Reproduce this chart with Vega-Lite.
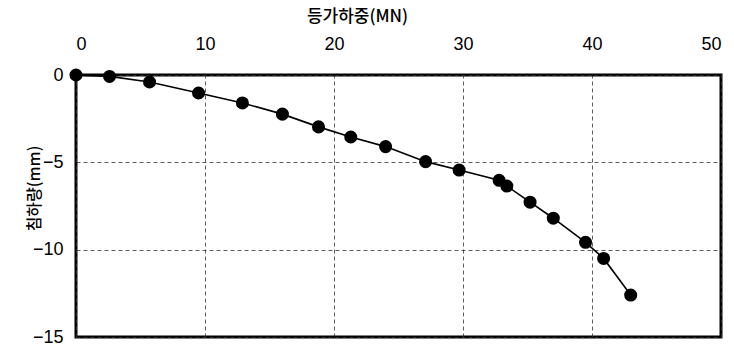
{
  "$schema": "https://vega.github.io/schema/vega-lite/v6.json",
  "width": 645,
  "height": 262,
  "autosize": {"type": "none"},
  "padding": {"left": 76, "top": 75, "right": 13, "bottom": 15},
  "background": "white",
  "config": {
    "font": "Liberation Sans, 'Noto Sans CJK KR', sans-serif",
    "view": {"stroke": "black", "strokeWidth": 3},
    "axis": {
      "domain": false,
      "ticks": false,
      "grid": true,
      "gridColor": "#333",
      "gridDash": [4, 3],
      "gridWidth": 0.8,
      "labelFont": "Liberation Sans",
      "labelFontSize": 18,
      "labelColor": "black",
      "titleFont": "'Noto Sans CJK KR', sans-serif",
      "titleFontWeight": 500,
      "titleColor": "black"
    }
  },
  "data": {
    "values": [
      {"load": 0.0, "settlement": 0.0},
      {"load": 2.6, "settlement": -0.08},
      {"load": 5.7, "settlement": -0.4},
      {"load": 9.5, "settlement": -1.03},
      {"load": 12.9, "settlement": -1.6},
      {"load": 16.0, "settlement": -2.24},
      {"load": 18.8, "settlement": -2.97},
      {"load": 21.3, "settlement": -3.55},
      {"load": 24.0, "settlement": -4.1},
      {"load": 27.1, "settlement": -4.96},
      {"load": 29.7, "settlement": -5.44},
      {"load": 32.8, "settlement": -6.03},
      {"load": 33.4, "settlement": -6.36},
      {"load": 35.2, "settlement": -7.28},
      {"load": 37.0, "settlement": -8.2},
      {"load": 39.5, "settlement": -9.58},
      {"load": 40.9, "settlement": -10.5},
      {"load": 43.0, "settlement": -12.6}
    ]
  },
  "encoding": {
    "x": {
      "field": "load",
      "type": "quantitative",
      "scale": {"domain": [0, 50], "nice": false},
      "axis": {
        "orient": "top",
        "values": [0, 10, 20, 30, 40, 50],
        "labelPadding": 22,
        "title": "등가하중(MN)",
        "titleFontSize": 17,
        "titleX": 281,
        "titleY": -50,
        "titleAnchor": "middle"
      }
    },
    "y": {
      "field": "settlement",
      "type": "quantitative",
      "scale": {"domain": [-15, 0], "nice": false},
      "axis": {
        "values": [0, -5, -10, -15],
        "labelPadding": 13,
        "title": "침하량(mm)",
        "titleFontSize": 16,
        "titleX": -42,
        "titleY": 113,
        "titleAnchor": "middle",
        "titleAngle": -90,
        "titleBaseline": "middle"
      }
    }
  },
  "layer": [
    {"mark": {"type": "line", "color": "black", "strokeWidth": 1.6}},
    {"mark": {"type": "circle", "color": "black", "opacity": 1, "size": 170}}
  ]
}
